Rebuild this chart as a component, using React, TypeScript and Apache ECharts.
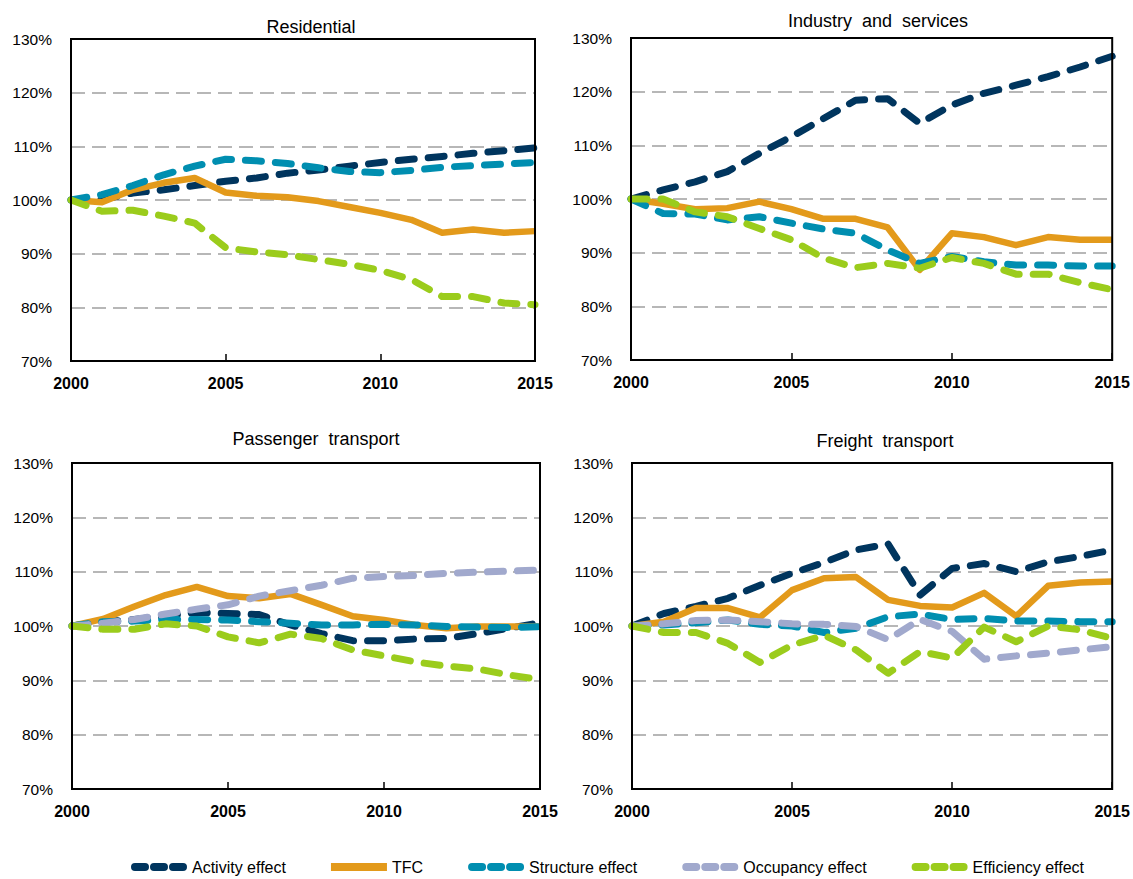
import React, { useEffect, useRef } from "react";
import * as echarts from "echarts";

const years = ["2000","2001","2002","2003","2004","2005","2006","2007","2008","2009","2010","2011","2012","2013","2014","2015"];

const panelTitles = ["Residential", "Industry  and  services", "Passenger  transport", "Freight  transport"];
const seriesNames = ["Activity effect", "TFC", "Structure effect", "Occupancy effect", "Efficiency effect"];

// Residential
const resActivity = [100,100.1,101.3,101.9,102.7,103.5,104.1,105,105.6,106.3,107,107.6,108.1,108.7,109.2,109.7];
const resTFC = [100,99.6,101.9,103.2,104.1,101.4,100.8,100.5,99.8,98.7,97.6,96.3,93.9,94.5,93.9,94.2];
const resStructure = [100,101,102.7,104.7,106.3,107.6,107.3,106.8,106,105.3,105.1,105.5,106.1,106.4,106.7,107];
const resEfficiency = [100,97.9,98.1,97,95.7,91.1,90.3,89.8,88.9,88,86.9,85.2,82,82,80.8,80.5];

// Industry and services
const indActivity = [100,101.7,103.2,105.1,108.5,111.6,115,118.4,118.7,114.1,117.5,119.7,121.2,122.8,124.6,126.6];
const indTFC = [100,99.1,98.1,98.3,99.5,98.1,96.3,96.3,94.7,86.8,93.6,92.9,91.4,92.9,92.4,92.4];
const indStructure = [100,97.3,97.2,96.1,96.7,95.5,94.4,93.6,90.5,88,89.3,88.3,87.7,87.7,87.5,87.5];
const indEfficiency = [100,100,97.6,96.7,94.5,92.4,89,87.2,88,87.1,89.1,88,86,86,84.4,83.1];

// Passenger transport
const pasActivity = [100,100.8,101.2,101.8,102.5,102.3,102.1,100.2,98.6,97.3,97.3,97.6,97.7,98.6,99.6,100.6];
const pasTFC = [100,101.3,103.6,105.7,107.2,105.5,105.1,105.9,103.9,101.8,101.1,100.2,99.6,99.9,99.9,99.9];
const pasStructure = [100,100.8,100.9,101.2,101.2,101.1,100.8,100.5,100.2,100.2,100.3,100.2,99.9,99.8,99.7,99.9];
const pasOccupancy = [100,100.5,101.2,102.2,103.1,103.9,105.5,106.5,107.5,108.8,109.1,109.3,109.7,109.9,110.1,110.3];
const pasEfficiency = [100,99.4,99.4,100.4,100,98,96.9,98.5,97.7,95.6,94.5,93.4,92.6,92.1,91,90.1];

// Freight transport
const freActivity = [100,102.3,103.6,105.1,107.5,109.7,111.7,114,115.1,105.7,110.6,111.5,110,111.8,112.8,114];
const freTFC = [100,100.8,103.3,103.3,101.6,106.6,108.8,109,104.8,103.7,103.4,106.1,101.8,107.4,108,108.2];
const freStructure = [100,100.2,100.6,101.1,100.3,100,98.8,99.6,101.7,102.2,101.2,101.4,100.9,100.9,100.8,100.8];
const freOccupancy = [100,100.4,101,101.1,100.8,100.4,100.3,99.9,97.5,101.2,99,93.9,94.5,95,95.6,96.2];
const freEfficiency = [100,98.8,98.8,96.8,93.3,96.5,98.3,95.6,91.3,95.3,94.1,99.8,97.1,100,99.3,97.7];

const colors: Record<string, string> = {
  "Activity effect": "#00355e",
  "TFC": "#e39a1b",
  "Structure effect": "#008eb0",
  "Occupancy effect": "#a1a9cd",
  "Efficiency effect": "#9bcc1c",
};

const FONT = "'Liberation Sans', Arial, sans-serif";

const DASH_ICON =
  "path://M4,0h10a4,4 0 0 1 0,8h-10a4,4 0 0 1 0,-8z M23,0h10a4,4 0 0 1 0,8h-10a4,4 0 0 1 0,-8z M42,0h10a4,4 0 0 1 0,8h-10a4,4 0 0 1 0,-8z";
const SOLID_ICON = "path://M0,0h56v8h-56z";

const panels: { [k: string]: number[] }[] = [
  { "Activity effect": resActivity, "TFC": resTFC, "Structure effect": resStructure, "Efficiency effect": resEfficiency },
  { "Activity effect": indActivity, "TFC": indTFC, "Structure effect": indStructure, "Efficiency effect": indEfficiency },
  { "Activity effect": pasActivity, "TFC": pasTFC, "Structure effect": pasStructure, "Occupancy effect": pasOccupancy, "Efficiency effect": pasEfficiency },
  { "Activity effect": freActivity, "TFC": freTFC, "Structure effect": freStructure, "Occupancy effect": freOccupancy, "Efficiency effect": freEfficiency },
];

const gridRects = [
  { left: 71, top: 39, width: 464, height: 322 },
  { left: 631, top: 38, width: 484, height: 322 },
  { left: 72, top: 463, width: 468, height: 326 },
  { left: 632, top: 463, width: 484, height: 326 },
];
const titlePos = [
  { x: 306, y: 13 },
  { x: 873, y: 7 },
  { x: 311, y: 425 },
  { x: 880, y: 427 },
];

export default function App() {
  const ref = useRef<HTMLDivElement>(null);
  useEffect(() => {
    document.body.style.margin = "0";
    const chart = echarts.init(ref.current!, undefined, { renderer: "svg" });
    const grid = gridRects.map((g) => ({
      ...g,
      show: true,
      borderColor: "#000",
      borderWidth: 2,
      backgroundColor: "transparent",
      z: 5,
      containLabel: false,
    }));
    const xAxis = gridRects.map((_, i) => ({
      type: "category",
      gridIndex: i,
      data: years,
      boundaryGap: false,
      axisLine: { show: false },
      axisTick: { show: true, inside: true, interval: 4, length: 7, lineStyle: { color: "#000", width: 1.5 } },
      axisLabel: { interval: 4, color: "#000", fontFamily: FONT, fontSize: 16, fontWeight: "bold", margin: 14 },
      splitLine: { show: false },
    }));
    const yAxis = gridRects.map((_, i) => ({
      type: "value",
      gridIndex: i,
      min: 70,
      max: 130,
      interval: 10,
      axisLine: { show: false },
      axisTick: { show: false },
      axisLabel: { formatter: "{value}%", color: "#000", fontFamily: FONT, fontSize: 15.5, margin: 19 },
      splitLine: { show: true, lineStyle: { color: "#a0a0a0", width: 1.5, type: [14, 7] } },
    }));
    const series: any[] = [];
    panels.forEach((p, i) => {
      seriesNames.forEach((name) => {
        const data = p[name];
        if (!data) return;
        const solid = name === "TFC";
        series.push({
          type: "line",
          name,
          xAxisIndex: i,
          yAxisIndex: i,
          data,
          symbol: "none",
          color: colors[name],
          lineStyle: {
            color: colors[name],
            width: solid ? 6.5 : 7,
            type: solid ? "solid" : [16, 14],
            cap: solid ? "butt" : "round",
            join: "round",
          },
        });
      });
    });
    chart.setOption({
      animation: false,
      title: panelTitles.map((t, i) => ({
        text: t,
        left: titlePos[i].x,
        top: titlePos[i].y,
        textAlign: "center",
        textStyle: { fontFamily: FONT, fontSize: 18, fontWeight: "normal", color: "#000" },
      })),
      legend: {
        data: seriesNames.map((n) => ({ name: n, icon: n === "TFC" ? SOLID_ICON : DASH_ICON })),
        left: 126,
        top: 854,
        width: 1000,
        itemWidth: 56,
        itemHeight: 8,
        itemGap: 45,
        textStyle: { fontFamily: FONT, fontSize: 16, color: "#000" },
        selectedMode: false,
      },
      grid,
      xAxis,
      yAxis,
      series,
    });
    return () => chart.dispose();
  }, []);
  return <div ref={ref} style={{ width: 1133, height: 879 }} />;
}
